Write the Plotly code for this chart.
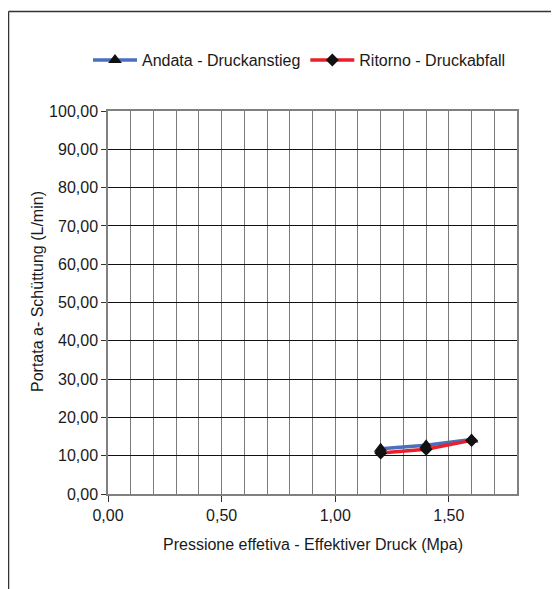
import plotly.graph_objects as go

# Data
pressure = [1.2, 1.4, 1.6]
andata = [11.8, 12.7, 14.2]
ritorno = [10.7, 11.7, 14.0]
x_ticks = [0.0, 0.5, 1.0, 1.5]
x_tick_labels = ["0,00", "0,50", "1,00", "1,50"]
y_ticks = [0, 10, 20, 30, 40, 50, 60, 70, 80, 90, 100]
y_tick_labels = [f"{v:.2f}".replace(".", ",") for v in y_ticks]

FONT = "Liberation Sans, Arial, sans-serif"
TXT = "#1a1a1a"

# page body adds an 8px offset; plot area target: x 108..517, y 111..494 (absolute)
OFF = 8
L, T = 108 - OFF, 111 - OFF
PW, PH = 409, 383

def px(xabs):
    return (xabs - OFF - L) / PW

def py(yabs):
    return (T + PH - (yabs - OFF)) / PH

fig = go.Figure()
fig.add_trace(go.Scatter(
    x=pressure, y=andata, name="Andata - Druckanstieg", mode="lines+markers",
    line=dict(color="#4a6fbf", width=3.5),
    marker=dict(symbol="triangle-up", size=12, color="#111111"),
))
fig.add_trace(go.Scatter(
    x=pressure, y=ritorno, name="Ritorno - Druckabfall", mode="lines+markers",
    line=dict(color="#e8202a", width=3.5),
    marker=dict(symbol="diamond", size=10, color="#111111"),
))

fig.update_layout(
    width=559, height=589,
    margin=dict(l=L, r=559 - L - PW, t=T, b=589 - T - PH),
    paper_bgcolor="white", plot_bgcolor="white",
    font=dict(family=FONT, size=16, color=TXT),
    showlegend=True,
    legend=dict(orientation="h", xref="paper", yref="paper",
                x=px(88), y=py(60),
                xanchor="left", yanchor="middle",
                font=dict(size=16, color=TXT), itemwidth=44, tracegroupgap=0,
                bgcolor="rgba(0,0,0,0)"),
    xaxis=dict(
        range=[0, 1.8], tickmode="array", tickvals=x_ticks, ticktext=x_tick_labels,
        showgrid=True, gridcolor="#7a7a7a", gridwidth=1,
        minor=dict(dtick=0.1, tick0=0, showgrid=True, gridcolor="#7a7a7a", gridwidth=1),
        showline=True, linecolor="#808080", linewidth=1.5, mirror=True,
        ticks="outside", ticklen=6, tickcolor="#333333",
        tickfont=dict(size=16, color=TXT), zeroline=False,
    ),
    yaxis=dict(
        range=[0, 100], tickmode="array", tickvals=y_ticks, ticktext=y_tick_labels,
        showgrid=True, gridcolor="#111111", gridwidth=1,
        showline=True, linecolor="#808080", linewidth=1.5, mirror=True,
        ticks="outside", ticklen=5, tickcolor="#333333",
        tickfont=dict(size=16, color=TXT), zeroline=False,
    ),
    annotations=[
        dict(text="Pressione effetiva - Effektiver Druck (Mpa)", xref="paper", yref="paper",
             x=px(313), y=py(544), xanchor="center", yanchor="middle", showarrow=False,
             font=dict(size=16, color=TXT)),
        dict(text="Portata a- Schüttung (L/min)", xref="paper", yref="paper",
             x=px(37), y=py(292), xanchor="center", yanchor="middle", showarrow=False,
             textangle=-90, font=dict(size=16, color=TXT)),
    ],
    shapes=[
        dict(type="line", xref="paper", yref="paper", x0=px(8.5), x1=px(600), y0=py(11.5), y1=py(11.5),
             line=dict(color="#333333", width=1.5)),
        dict(type="line", xref="paper", yref="paper", x0=px(8.5), x1=px(8.5), y0=py(11.5), y1=py(620),
             line=dict(color="#333333", width=1.5)),
    ],
)

fig.write_html("out.html")
